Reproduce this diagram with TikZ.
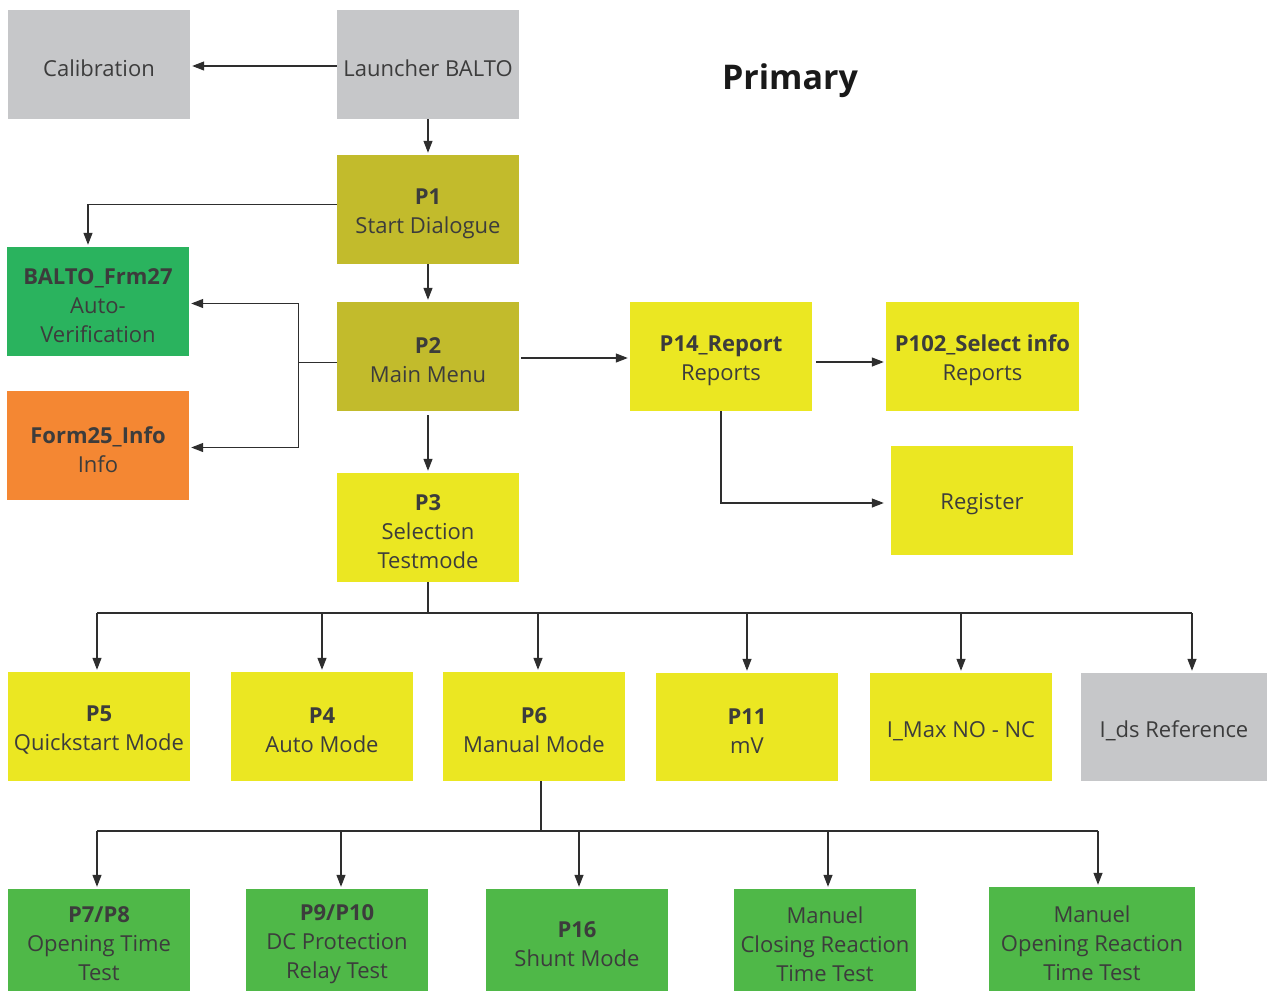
\documentclass[tikz,border=0pt]{standalone}
\usepackage{fontspec}
\setmainfont{Open Sans}
\usetikzlibrary{arrows.meta,calc}
\definecolor{cgray}{HTML}{C6C7C9}
\definecolor{colive}{HTML}{C2BB2C}
\definecolor{cyellow}{HTML}{EBE722}
\definecolor{cgreenA}{HTML}{2AB35E}
\definecolor{corange}{HTML}{F48733}
\definecolor{cgreenB}{HTML}{4FB848}
\definecolor{txt}{HTML}{3C3C3C}
\definecolor{ln}{HTML}{2E2E2E}
% \bx{name}{x}{y}{fill}{extra}{text}
\newcommand{\bx}[6]{%
  \node[box, fill=#4, #5] (#1) at (#2,#3) {};
  \node[lbl] (#1-t) at ($(#1.center)+(0,4)$) {#6};
}
\begin{document}
\begin{tikzpicture}[x=1pt,y=-1pt,
  box/.style={draw=none, inner sep=0pt, minimum width=182pt, minimum height=109pt},
  lbl/.style={inner sep=0pt, align=center, text=txt, font=\fontsize{22}{29}\selectfont},
  conn/.style={draw=ln, line width=1.2pt},
  arr/.style={conn, -{Triangle[length=12pt,width=9pt]}, shorten >=2pt}]
\useasboundingbox (0,0) rectangle (1267,991);
\fill[white] (0,0) rectangle (1267,991);

\bx{cal}{99}{64.5}{cgray}{}{Calibration}
\bx{launch}{428}{64.5}{cgray}{}{Launcher BALTO}
\bx{p1}{428}{209.5}{colive}{}{\textbf{P1}\\Start Dialogue}
\bx{frm27}{98}{301.5}{cgreenA}{}{\textbf{BALTO\_Frm27}\\Auto-\\Verification}
\bx{p2}{428}{356.5}{colive}{}{\textbf{P2}\\Main Menu}
\bx{form25}{98}{445.5}{corange}{}{\textbf{Form25\_Info}\\Info}
\bx{p3}{428}{527.5}{cyellow}{}{\textbf{P3}\\Selection\\Testmode}
\bx{p14}{721}{356.5}{cyellow}{}{\textbf{P14\_Report}\\Reports}
\bx{p102}{982.5}{356.5}{cyellow}{minimum width=193pt}{\textbf{P102\_Select info}\\Reports}
\bx{reg}{982}{500.5}{cyellow}{}{Register}

\bx{p5}{99}{726.5}{cyellow}{}{\textbf{P5}\\Quickstart Mode}
\bx{p4}{322}{726.5}{cyellow}{}{\textbf{P4}\\Auto Mode}
\bx{p6}{534}{726.5}{cyellow}{}{\textbf{P6}\\Manual Mode}
\bx{p11}{747}{727}{cyellow}{minimum height=108pt}{\textbf{P11}\\mV}
\bx{imax}{961}{727}{cyellow}{minimum height=108pt}{I\_Max NO - NC}
\bx{ids}{1174}{727}{cgray}{minimum width=186pt, minimum height=108pt}{I\_ds Reference}

\bx{p78}{99}{940}{cgreenB}{minimum height=102pt}{\textbf{P7/P8}\\Opening Time\\Test}
\bx{p910}{337}{940}{cgreenB}{minimum height=102pt}{\textbf{P9/P10}\\DC Protection\\Relay Test}
\bx{p16}{577}{940}{cgreenB}{minimum height=102pt}{\textbf{P16}\\Shunt Mode}
\bx{mclose}{825}{940}{cgreenB}{minimum height=102pt}{Manuel\\Closing Reaction\\Time Test}
\bx{mopen}{1092}{939}{cgreenB}{minimum width=206pt, minimum height=104pt}{Manuel\\Opening Reaction\\Time Test}

\node[font=\fontsize{34}{40}\selectfont\bfseries, text=black!90] (title) at (790,81) {Primary};

% connectors
\draw[arr] ($(launch.west)+(0,1.5)$) -- ($(cal.east)+(0,1.5)$);
\draw[arr] (launch.south) -- (p1.north);
\draw[arr] ($(p1.west)+(0,-5)$) -| ($(frm27.north)+(-10,0)$);
\draw[arr] (p1.south) -- (p2.north);
\draw[conn] ($(p2.west)+(0,6)$) -- ++(-38,0) coordinate (j);
\coordinate (ja) at ($(j |- frm27.east)+(0,2)$);
\coordinate (jb) at ($(j |- form25.east)+(0,2)$);
\draw[conn] (ja) -- (jb);
\draw[arr] (ja) -- ($(frm27.east)+(0,2)$);
\draw[arr] (jb) -- ($(form25.east)+(0,2)$);
\draw[arr] ($(p2.east)+(2,1.5)$) -- ($(p14.west)+(0,1.5)$);
\draw[arr] ($(p14.east)+(4,5.5)$) -- ($(p102.west)+(0,5.5)$);
\draw[arr] (p14.south) |- ($(reg.west)+(-5,2.5)$);
\draw[arr] ($(p2.south)+(0,4)$) -- (p3.north);

\coordinate (b1) at (428,613);
\draw[conn] (p3.south) -- (b1);
\draw[conn] ($(p5.north |- b1)+(-2,0)$) -- ($(ids.north |- b1)+(18,0)$);
\draw[arr] ($(p5.north |- b1)+(-2,0)$) -- ($(p5.north)+(-2,0)$);
\draw[arr] (p4.north |- b1) -- (p4.north);
\draw[arr] ($(p6.north |- b1)+(4,0)$) -- ($(p6.north)+(4,0)$);
\draw[arr] (p11.north |- b1) -- (p11.north);
\draw[arr] (imax.north |- b1) -- (imax.north);
\draw[arr] ($(ids.north |- b1)+(18,0)$) -- ($(ids.north)+(18,0)$);

\coordinate (b2) at (541,831);
\draw[conn] ($(p6.south)+(7,0)$) -- (b2);
\draw[conn] ($(p78.north |- b2)+(-2,0)$) -- ($(mopen.north |- b2)+(6,0)$);
\draw[arr] ($(p78.north |- b2)+(-2,0)$) -- ($(p78.north)+(-2,0)$);
\draw[arr] ($(p910.north |- b2)+(4,0)$) -- ($(p910.north)+(4,0)$);
\draw[arr] ($(p16.north |- b2)+(2,0)$) -- ($(p16.north)+(2,0)$);
\draw[arr] ($(mclose.north |- b2)+(3,0)$) -- ($(mclose.north)+(3,0)$);
\draw[arr] ($(mopen.north |- b2)+(6,0)$) -- ($(mopen.north)+(6,0)$);
\end{tikzpicture}
\end{document}
